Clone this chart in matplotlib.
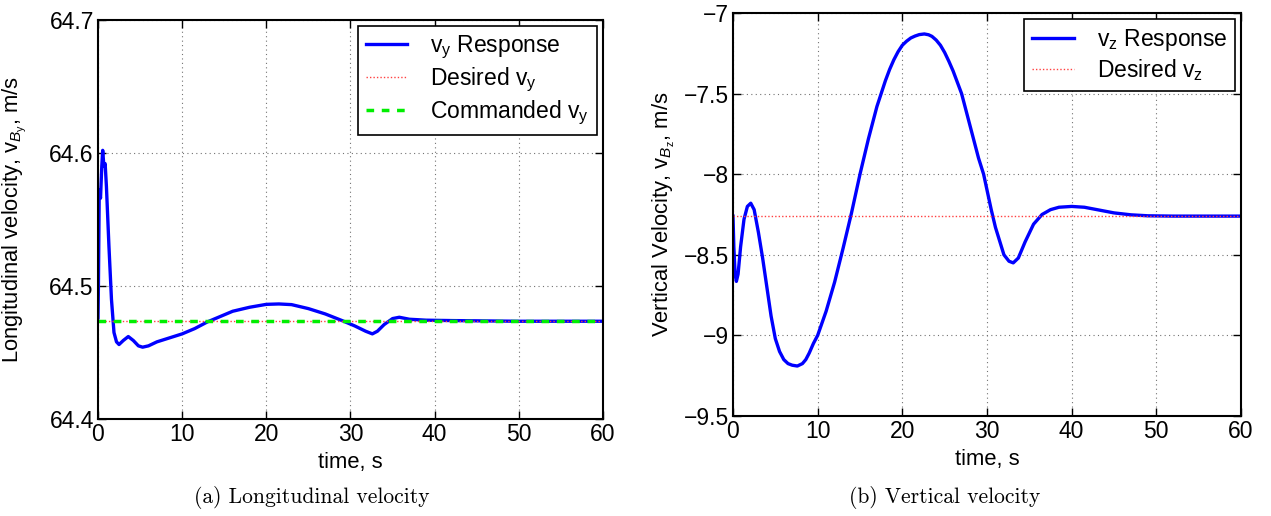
import matplotlib
matplotlib.use("Agg")
import matplotlib.pyplot as plt

plt.rcParams["font.family"] = ["Liberation Sans", "DejaVu Sans"]
plt.rcParams["mathtext.fontset"] = "custom"
plt.rcParams["mathtext.rm"] = "Liberation Sans"
plt.rcParams["mathtext.it"] = "Liberation Sans:italic"

fs_ticks = 16.5
fs_label = 15.8
fs_legend = 16.5
fs_caption = 15.5
lw = 2.4

# ---- data: longitudinal velocity ----
t_long = [0, 0.05, 0.15, 0.3, 0.45, 0.56, 0.7, 0.85, 1.0, 1.3, 1.6, 1.9, 2.2, 2.5,
          3.0, 3.6, 4.2, 4.8, 5.3, 6.0, 7.0, 8.5, 10, 11.5, 13, 14.5, 16, 18, 20,
          21.5, 23, 25, 27, 29, 30.5, 31.8, 32.6, 33.2, 34, 35, 35.8, 37, 39, 42, 50, 60]
vy_resp = [64.476, 64.5, 64.572, 64.566, 64.59, 64.602, 64.59, 64.592, 64.575, 64.53,
           64.49, 64.465, 64.458, 64.456, 64.459, 64.462, 64.459, 64.455, 64.454,
           64.455, 64.458, 64.461, 64.464, 64.468, 64.473, 64.477, 64.481, 64.484,
           64.4862, 64.4865, 64.486, 64.483, 64.479, 64.474, 64.47, 64.466, 64.464,
           64.466, 64.471, 64.4755, 64.4765, 64.475, 64.4743, 64.474, 64.4735, 64.4735]
vy_desired = 64.4735
vy_commanded = 64.4735

# ---- data: vertical velocity ----
t_vert = [0, 0.1, 0.25, 0.4, 0.6, 0.9, 1.3, 1.7, 2.1, 2.5, 3.0, 3.5, 4.0, 4.5, 5.0,
          5.5, 6.0, 6.5, 7.0, 7.6, 8.2, 8.6, 9.0, 9.5, 10, 11, 12, 13, 14, 15, 16, 17,
          18, 18.5, 19, 19.5, 20, 20.5, 21, 21.5, 22, 22.6, 23.1, 23.5, 24, 24.5, 25,
          25.5, 26, 26.5, 27, 28, 29, 29.6, 30.5, 31, 32, 32.6, 33.1, 33.7, 34.5,
          35.5, 36.5, 37.5, 38.5, 40, 41.5, 43, 45, 47, 49, 52, 60]
vz_resp = [-8.26, -8.45, -8.62, -8.665, -8.62, -8.45, -8.28, -8.2, -8.18, -8.22,
           -8.36, -8.52, -8.7, -8.88, -9.02, -9.1, -9.15, -9.175, -9.185, -9.19,
           -9.175, -9.15, -9.11, -9.05, -9.0, -8.85, -8.67, -8.46, -8.24, -8.0,
           -7.78, -7.58, -7.42, -7.35, -7.29, -7.24, -7.2, -7.175, -7.155, -7.143,
           -7.134, -7.13, -7.135, -7.145, -7.168, -7.2, -7.245, -7.3, -7.36, -7.43,
           -7.5, -7.7, -7.9, -8.0, -8.22, -8.33, -8.5, -8.54, -8.55, -8.52, -8.42,
           -8.31, -8.25, -8.22, -8.205, -8.2, -8.205, -8.22, -8.24, -8.252, -8.258,
           -8.26, -8.26]
vz_desired = -8.26

x_ticks = [0, 10, 20, 30, 40, 50, 60]
long_yticks = [64.4, 64.5, 64.6, 64.7]
long_yticklabels = ["64.4", "64.5", "64.6", "64.7"]
vert_yticks = [-9.5, -9, -8.5, -8, -7.5, -7]
vert_yticklabels = ["\u22129.5", "\u22129", "\u22128.5", "\u22128", "\u22127.5", "\u22127"]


def style_axes(ax, yticks, yticklabels):
    ax.set_xlim(0, 60)
    ax.set_ylim(yticks[0], yticks[-1])
    ax.set_xticks(x_ticks)
    ax.set_xticklabels([str(x) for x in x_ticks], fontsize=fs_ticks)
    ax.set_yticks(yticks)
    ax.set_yticklabels(yticklabels, fontsize=fs_ticks)
    ax.tick_params(direction="in", length=6, width=1, top=True, right=True, pad=3)
    ax.grid(True, linestyle=(0, (1, 3)), color="0.45", linewidth=0.8)
    for sp in ax.spines.values():
        sp.set_linewidth(1.5)
    ax.set_xlabel("time, s", fontsize=fs_label, labelpad=4)


def add_legend(ax):
    leg = ax.legend(loc="upper right", fontsize=fs_legend, fancybox=False, framealpha=1,
                    edgecolor="black", borderaxespad=0.25, handlelength=1.8,
                    handletextpad=1.0, labelspacing=0.2, borderpad=0.35)
    leg.get_frame().set_linewidth(1.2)


fig = plt.figure(figsize=(12.71, 5.16), dpi=100)

# (a) longitudinal
ax1 = fig.add_axes([0.0771, 0.1880, 0.3973, 0.7732])
ax1.plot(t_long, vy_resp, color="#0000ff", linewidth=lw, label=r"v$_\mathrm{y}$ Response")
ax1.plot([0, 60], [vy_desired, vy_desired], color="#ff4040", linestyle=(0, (1, 1.5)),
         linewidth=1.0, label=r"Desired v$_\mathrm{y}$")
ax1.plot([0, 60], [vy_commanded, vy_commanded], color="#00ee00", linestyle=(0, (2.2, 2.2)),
         linewidth=2.5, label=r"Commanded v$_\mathrm{y}$")
style_axes(ax1, long_yticks, long_yticklabels)
ax1.set_ylabel(r"Longitudinal velocity, v$_{\mathit{B}_\mathrm{y}}$, m/s", fontsize=fs_label)
ax1.yaxis.set_label_coords(-0.139, 0.5)
add_legend(ax1)
fig.text(0.2455, 0.035, "(a) Longitudinal velocity", fontsize=fs_caption, family="cmr10",
         ha="center", va="center")

# (b) vertical
ax2 = fig.add_axes([0.5767, 0.1938, 0.3997, 0.781])
ax2.plot(t_vert, vz_resp, color="#0000ff", linewidth=lw, label=r"v$_\mathrm{z}$ Response")
ax2.plot([0, 60], [vz_desired, vz_desired], color="#ff4040", linestyle=(0, (1, 1.5)),
         linewidth=1.0, label=r"Desired v$_\mathrm{z}$")
style_axes(ax2, vert_yticks, vert_yticklabels)
ax2.set_ylabel(r"Vertical Velocity, v$_{\mathit{B}_\mathrm{z}}$, m/s", fontsize=fs_label)
ax2.yaxis.set_label_coords(-0.11, 0.5)
add_legend(ax2)
fig.text(0.7435, 0.035, "(b) Vertical velocity", fontsize=fs_caption, family="cmr10",
         ha="center", va="center")

fig.savefig("out.png", dpi=100)
